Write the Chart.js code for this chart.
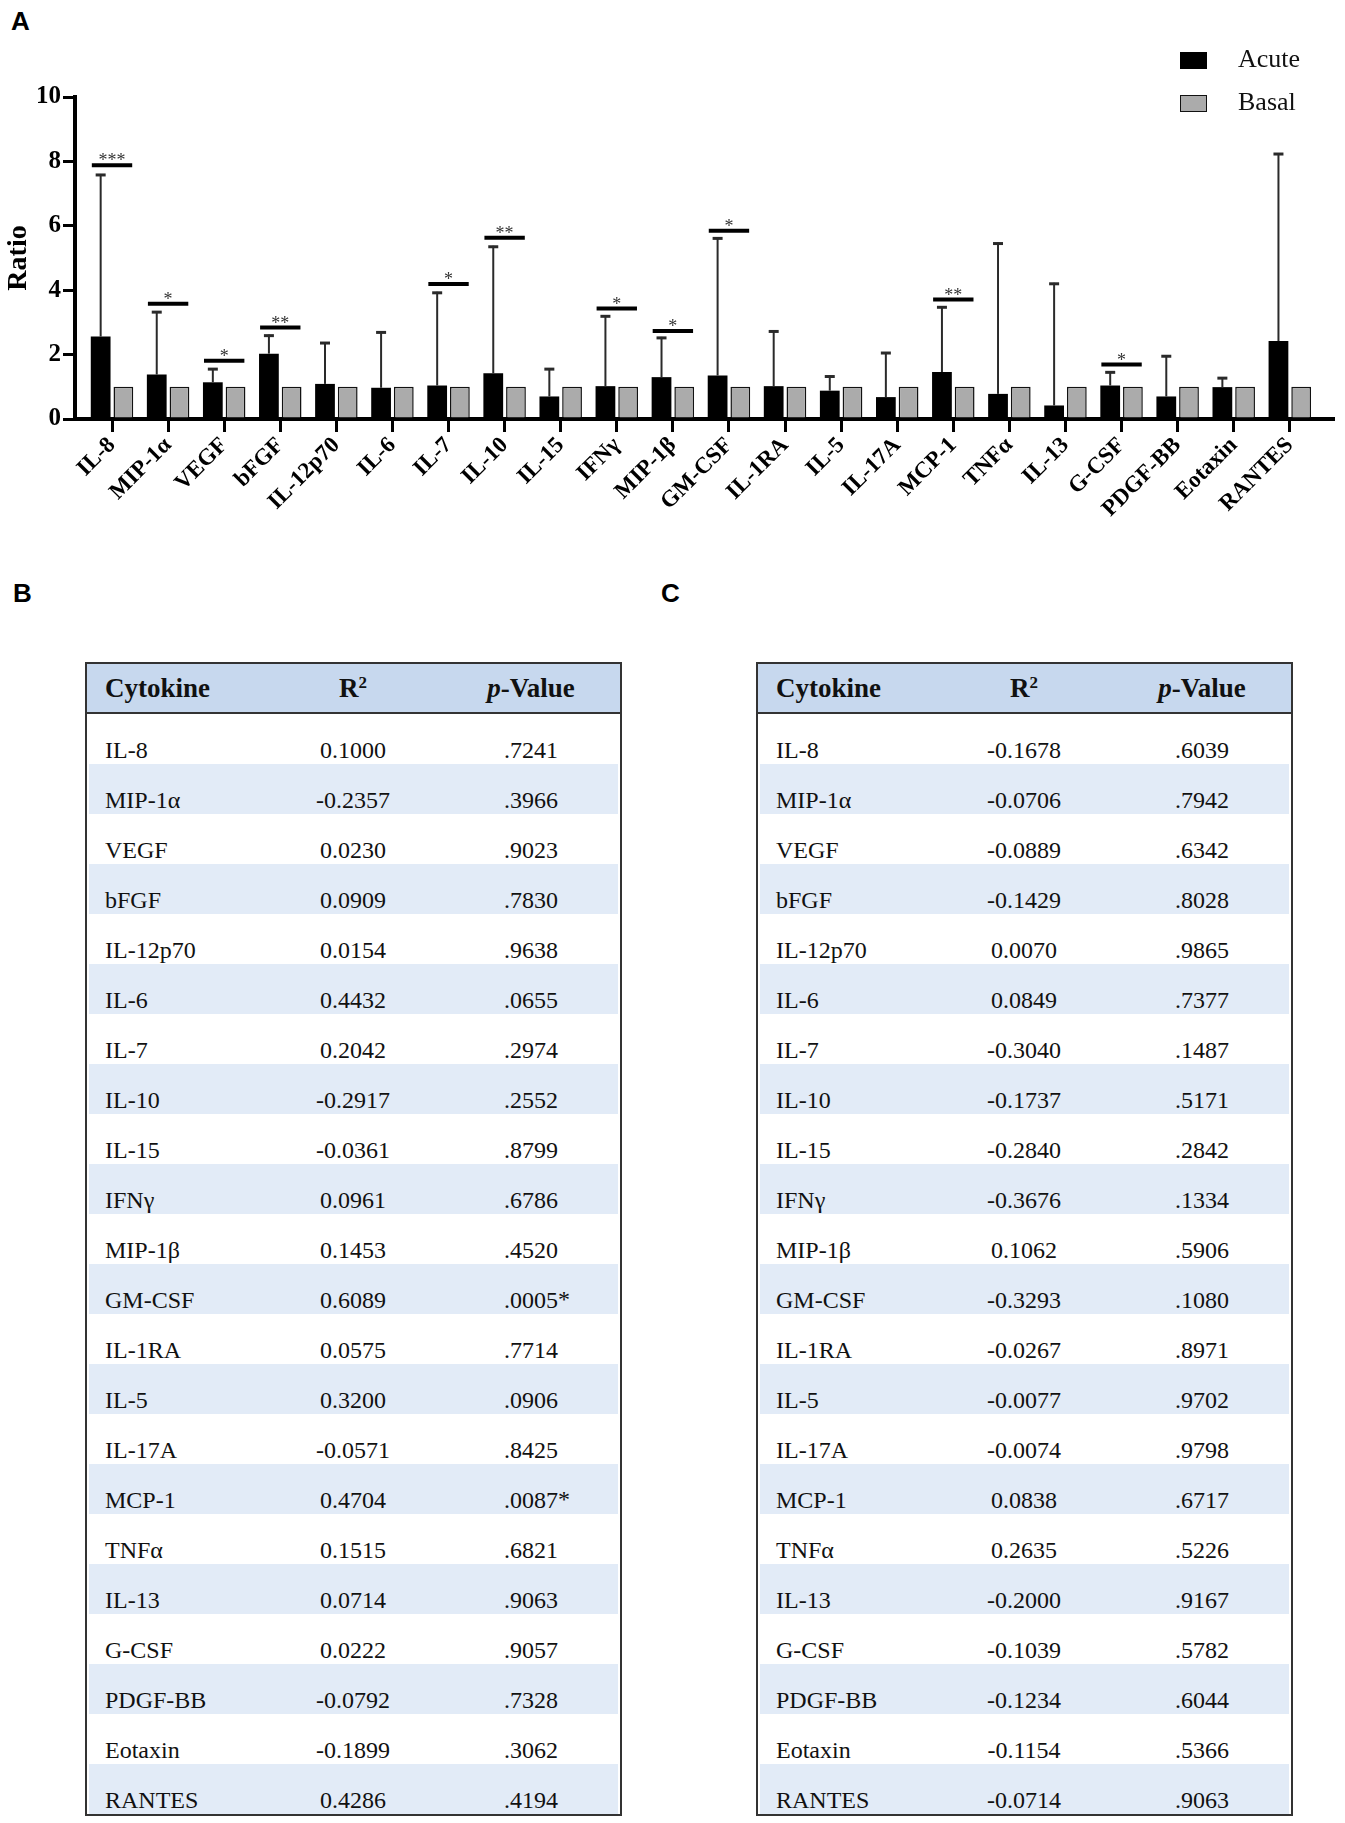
<!DOCTYPE html>
<html>
<head>
<meta charset="utf-8">
<script src="https://cdn.jsdelivr.net/npm/chart.js@4.4.1/dist/chart.umd.min.js"></script>
<style>
  html, body { margin: 0; padding: 0; background: #fff; }
  body { width: 1345px; height: 1823px; position: relative; overflow: hidden;
         font-family: "Times New Roman", "Liberation Serif", serif; color: #111; }
  .panel { position: absolute; font-family: Arial, "Liberation Sans", sans-serif;
           font-weight: bold; font-size: 26px; line-height: 26px; color: #000; }
  #chart-wrap { position: absolute; left: 0; top: 0; width: 1345px; height: 570px; }
  .legend-item { position: absolute; left: 1180px; height: 26px; font-size: 26px; line-height: 26px; }
  .legend-item .swatch { position: absolute; left: 0; width: 27px; height: 17px; box-sizing: border-box; }
  .legend-item .name { position: absolute; left: 58px; top: -2px; white-space: nowrap; }
  .table { position: absolute; top: 662px; width: 537px; height: 1154px;
           border: 2px solid #333; box-sizing: border-box; background: #fff; }
  .thead { position: relative; height: 48px; background: #c7d8ee; border-bottom: 2px solid #333; }
  .thead span { position: absolute; top: 11px; font-size: 27px; line-height: 27px; font-weight: bold; }
  .row { position: relative; height: 50px; margin: 0 2px; }
  .row:nth-child(odd) { background: #e2ebf7; }
  .row span { position: absolute; top: 24px; font-size: 24px; line-height: 24px; white-space: nowrap; }
  .c1 { left: 16px; }
  .c2 { left: 174px; width: 180px; text-align: center; }
  .c3 { left: 352px; width: 180px; text-align: center; }
  .thead .c1 { left: 18px; }
  .thead .c2 { left: 176px; }
  .thead .c3 { left: 354px; }
</style>
</head>
<body>
<div class="panel" style="left:11px; top:8px;">A</div>
<div class="panel" style="left:13px; top:580px;">B</div>
<div class="panel" style="left:661px; top:580px;">C</div>

<div id="chart-wrap"><canvas id="ratio-chart" width="1345" height="570"></canvas></div>

<div class="legend-item" style="top:48px;">
  <div class="swatch" style="top:4px; background:#000;"></div>
  <div class="name">Acute</div>
</div>
<div class="legend-item" style="top:91px;">
  <div class="swatch" style="top:4px; background:#ababab; border:1.5px solid #111;"></div>
  <div class="name">Basal</div>
</div>

<div class="table" id="table-b" style="left:85px;"></div>
<div class="table" id="table-c" style="left:756px;"></div>

<script>
const cytokines = ["IL-8", "MIP-1α", "VEGF", "bFGF", "IL-12p70", "IL-6", "IL-7", "IL-10", "IL-15", "IFNγ", "MIP-1β",
  "GM-CSF", "IL-1RA", "IL-5", "IL-17A", "MCP-1", "TNFα", "IL-13", "G-CSF", "PDGF-BB", "Eotaxin", "RANTES"];

// panel A: mean ratio and upper end of the error bar
const acuteRatio = [2.56, 1.38, 1.14, 2.03, 1.09, 0.97, 1.04, 1.42, 0.70, 1.02, 1.30,
  1.35, 1.02, 0.88, 0.68, 1.46, 0.78, 0.42, 1.04, 0.70, 0.99, 2.42];
const acuteUpper = [7.61, 3.35, 1.58, 2.62, 2.39, 2.72, 3.95, 5.38, 1.58, 3.22, 2.55,
  5.64, 2.75, 1.35, 2.08, 3.50, 5.48, 4.23, 1.48, 1.98, 1.30, 8.26];
const basalRatio = [1, 1, 1, 1, 1, 1, 1, 1, 1, 1, 1, 1, 1, 1, 1, 1, 1, 1, 1, 1, 1, 1];

// significance brackets
const sigMark = ["***", "*", "*", "**", "", "", "*", "**", "", "*", "*",
  "*", "", "", "", "**", "", "", "*", "", "", ""];
const sigLevel = [7.88, 3.58, 1.81, 2.84, null, null, 4.19, 5.63, null, 3.43, 2.73,
  5.85, null, null, null, 3.71, null, null, 1.69, null, null, null];

const yTicks = [0, 2, 4, 6, 8, 10];

// panels B and C
const r2B = ["0.1000", "-0.2357", "0.0230", "0.0909", "0.0154", "0.4432", "0.2042", "-0.2917", "-0.0361", "0.0961", "0.1453",
  "0.6089", "0.0575", "0.3200", "-0.0571", "0.4704", "0.1515", "0.0714", "0.0222", "-0.0792", "-0.1899", "0.4286"];
const pB = [".7241", ".3966", ".9023", ".7830", ".9638", ".0655", ".2974", ".2552", ".8799", ".6786", ".4520",
  ".0005*", ".7714", ".0906", ".8425", ".0087*", ".6821", ".9063", ".9057", ".7328", ".3062", ".4194"];
const r2C = ["-0.1678", "-0.0706", "-0.0889", "-0.1429", "0.0070", "0.0849", "-0.3040", "-0.1737", "-0.2840", "-0.3676", "0.1062",
  "-0.3293", "-0.0267", "-0.0077", "-0.0074", "0.0838", "0.2635", "-0.2000", "-0.1039", "-0.1234", "-0.1154", "-0.0714"];
const pC = [".6039", ".7942", ".6342", ".8028", ".9865", ".7377", ".1487", ".5171", ".2842", ".1334", ".5906",
  ".1080", ".8971", ".9702", ".9798", ".6717", ".5226", ".9167", ".5782", ".6044", ".5366", ".9063"];

const serif = "'Times New Roman', 'Liberation Serif', serif";

const errorBars = {
  id: "errorBars",
  afterDatasetsDraw(chart) {
    const { ctx, scales: { x, y } } = chart;
    const bars = chart.getDatasetMeta(0).data;
    ctx.save();
    bars.forEach((bar, i) => {
      const top = y.getPixelForValue(acuteUpper[i]);
      ctx.strokeStyle = "#2a2a2a";
      ctx.lineWidth = 2;
      ctx.beginPath();
      ctx.moveTo(bar.x, bar.y);
      ctx.lineTo(bar.x, top);
      ctx.stroke();
      ctx.lineWidth = 3;
      ctx.beginPath();
      ctx.moveTo(bar.x - 5, top + 1);
      ctx.lineTo(bar.x + 5, top + 1);
      ctx.stroke();

      if (sigLevel[i] == null) return;
      const x0 = x.getPixelForValue(i - 0.36);
      const x1 = x.getPixelForValue(i + 0.36);
      const sy = y.getPixelForValue(sigLevel[i]);
      ctx.strokeStyle = "#000";
      ctx.lineWidth = 4;
      ctx.beginPath();
      ctx.moveTo(x0, sy);
      ctx.lineTo(x1, sy);
      ctx.stroke();
      ctx.fillStyle = "#333";
      ctx.font = `18px ${serif}`;
      ctx.textAlign = "center";
      ctx.textBaseline = "alphabetic";
      ctx.fillText(sigMark[i], (x0 + x1) / 2, sy + 1);
    });
    ctx.restore();
  },
};

const barStyle = { categoryPercentage: 0.81, barPercentage: 0.87 };

new Chart(document.getElementById("ratio-chart"), {
  type: "bar",
  data: {
    datasets: [
      { label: "Acute", data: acuteRatio.map((v, i) => ({ x: i, y: v })),
        backgroundColor: "#000", borderWidth: 0, ...barStyle },
      { label: "Basal", data: basalRatio.map((v, i) => ({ x: i, y: v })),
        backgroundColor: "#ababab", borderColor: "#111", borderWidth: 1.5, ...barStyle },
    ],
  },
  options: {
    responsive: false,
    animation: false,
    layout: { padding: { left: 0, top: 97, right: 12, bottom: 0 } },
    plugins: { legend: { display: false }, tooltip: { enabled: false } },
    scales: {
      x: {
        type: "linear",
        offset: false,
        min: -0.66,
        max: 21.77,
        afterBuildTicks(scale) { scale.ticks = cytokines.map((_, i) => ({ value: i })); },
        grid: { offset: false, drawOnChartArea: false, tickLength: 13, lineWidth: 3, color: "#000" },
        border: { width: 4, color: "#000" },
        ticks: { autoSkip: false, maxRotation: 45, minRotation: 45, padding: 0, color: "#000",
          callback: (value, index) => cytokines[index],
          font: { family: serif, size: 23, weight: "bold" } },
        afterFit(scale) { scale.height = 151; },
      },
      y: {
        min: 0,
        max: 10,
        afterBuildTicks(scale) { scale.ticks = yTicks.map((v) => ({ value: v })); },
        grid: { drawOnChartArea: false, tickLength: 12, lineWidth: 3, color: "#000" },
        border: { width: 4, color: "#000" },
        ticks: { padding: 2, color: "#000", font: { family: serif, size: 25, weight: "bold" } },
        title: { display: true, text: "Ratio", color: "#000", padding: { top: 2, bottom: 0 },
          font: { family: serif, size: 28, weight: "bold" } },
        afterFit(scale) { scale.width = 75; },
      },
    },
  },
  plugins: [errorBars],
});

function fillTable(el, r2, p) {
  let html = '<div class="thead"><span class="c1">Cytokine</span>' +
    '<span class="c2">R<sup style="font-size:17px; vertical-align:9px; line-height:0;">2</sup></span>' +
    '<span class="c3"><i>p</i>-Value</span></div>';
  cytokines.forEach((name, i) => {
    const val = p[i].endsWith("*")
      ? `<span style="position:relative; left:0; top:0;">${p[i].slice(0, -1)}<span style="position:absolute; top:0; left:100%;">*</span></span>`
      : p[i];
    html += `<div class="row"><span class="c1">${name}</span><span class="c2">${r2[i]}</span><span class="c3">${val}</span></div>`;
  });
  el.innerHTML = html;
}

fillTable(document.getElementById("table-b"), r2B, pB);
fillTable(document.getElementById("table-c"), r2C, pC);
</script>
</body>
</html>
